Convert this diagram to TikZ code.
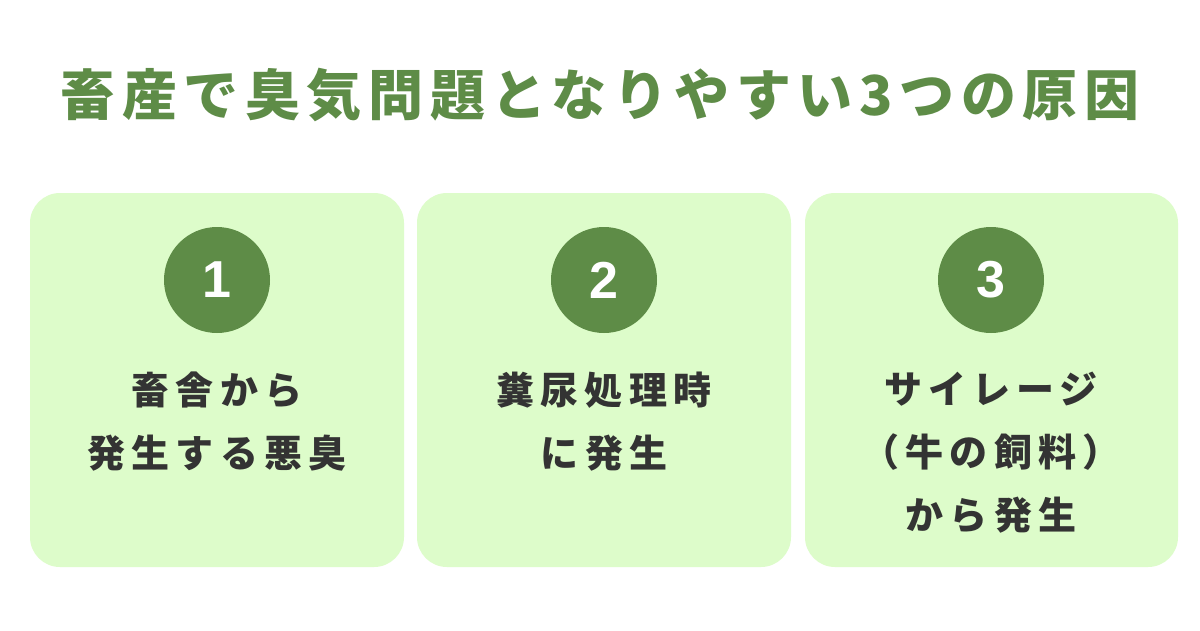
\documentclass[tikz,border=0pt]{standalone}
\usepackage{fontspec}
\setmainfont{Noto Sans CJK JP}
\newfontfamily\titlef[LetterSpace=12]{Noto Sans CJK JP}
\newfontfamily\bodyf[LetterSpace=16]{Noto Sans CJK JP}
\newfontfamily\numf{Liberation Sans}
\definecolor{gr}{HTML}{5E8C47}
\definecolor{lg}{HTML}{DDFCCA}
\definecolor{tx}{HTML}{333333}
\begin{document}
\begin{tikzpicture}[x=1pt,y=-1pt,
  card/.style={fill=lg,rounded corners=30pt},
  num/.style={circle,fill=gr,minimum size=106pt,inner sep=0pt,text=white,font=\numf\bfseries\fontsize{52}{52}\selectfont},
  lbl/.style={text=tx,align=center,font=\bodyf\bfseries\fontsize{38}{63}\selectfont,anchor=north}]
\useasboundingbox (0,0) rectangle (1200,630);
\fill[white] (0,0) rectangle (1200,630);
\node[text=gr,font=\titlef\bfseries\fontsize{55}{55}\selectfont] (t) at (600,95) {畜産で臭気問題となりやすい3つの原因};
\fill[card] (30,193) rectangle (404,567);
\fill[card] (417,193) rectangle (791,567);
\fill[card] (805,193) rectangle (1178,567);
\node[num] (n1) at (217,280) {1};
\node[num] (n2) at (604,280) {2};
\node[num] (n3) at (991,280) {3};
\node[lbl] (l1) at (217,368) {畜舎から\\発生する悪臭};
\node[lbl] (l2) at (604,368) {糞尿処理時\\に発生};
\node[lbl] (l3) at (991,368) {サイレージ\\（牛の飼料）\\から発生};
\end{tikzpicture}
\end{document}
